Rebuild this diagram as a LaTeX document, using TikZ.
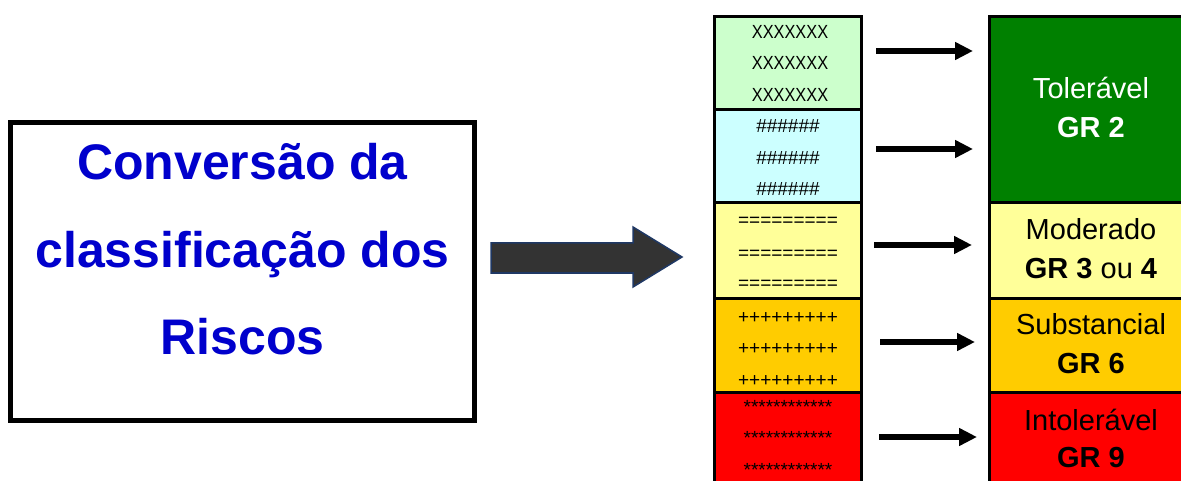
\documentclass[tikz,border=0pt]{standalone}
\usepackage{fontspec}
\setmainfont{Liberation Sans}
\usetikzlibrary{arrows.meta}
\definecolor{txtblue}{RGB}{0,0,204}
\definecolor{lgreen}{RGB}{204,255,204}
\definecolor{lcyan}{RGB}{204,255,255}
\definecolor{lyellow}{RGB}{255,255,153}
\definecolor{gold}{RGB}{255,204,0}
\definecolor{dgreen}{RGB}{0,128,0}
\definecolor{arrowfill}{RGB}{51,51,51}
\definecolor{arrowedge}{RGB}{31,56,100}
\tikzset{
  seg/.style={draw=black, line width=3pt, inner sep=0pt, outer sep=0pt},
  lseg/.style={seg, minimum width=147pt},
  rseg/.style={seg, minimum width=203pt},
  bigtxt/.style={anchor=base, inner sep=0pt, text=txtblue, font=\fontsize{50}{60}\selectfont\bfseries},
  smalltxt/.style={anchor=base, inner sep=0pt, font=\fontsize{19}{19}\selectfont},
  lbl/.style={anchor=base, inner sep=0pt, font=\fontsize{29}{35}\selectfont},
  smallarrow/.style={line width=6pt, -{Triangle[length=18pt,width=17pt]}},
}
\begin{document}
\begin{tikzpicture}[x=1pt,y=-1pt]
\useasboundingbox (0,0) rectangle (1181,481);
\clip (0,0) rectangle (1181,481);
% left box
\node[draw=black, line width=5pt, minimum width=464pt, minimum height=298pt, inner sep=0pt] (conv) at (242.5,271.5) {};
\node[bigtxt] (t1) at (242.5,180) {Conversão da};
\node[bigtxt] (t2) at (242.5,267) {classificação dos};
\node[bigtxt] (t3) at (242.5,354) {Riscos};
% big arrow
\draw[fill=arrowfill, draw=arrowedge, line width=1.5pt, line join=miter]
  (491,243) -- (633,243) -- (633,227) -- (682,257) -- (633,287) -- (633,273) -- (491,273) -- cycle;
% left column
\node[lseg, fill=lgreen, minimum height=93.5pt] (l1) at (788,63.25) {};
\node[lseg, fill=lcyan, minimum height=93pt] (l2) at (788,156.5) {};
\node[lseg, fill=lyellow, minimum height=95pt] (l3) at (788,250.5) {};
\node[lseg, fill=gold, minimum height=94pt] (l4) at (788,345) {};
\node[lseg, fill=red, minimum height=94pt] (l5) at (788,439) {};
% left column texts
\foreach \i/\y in {1/38.5,2/70,3/101.5}{
  \node[smalltxt] (x\i) at (790,\y) {\scalebox{0.86}[1]{XXXXXXX}};}
\foreach \i/\y in {1/133,2/164.5,3/196}{
  \node[smalltxt] (h\i) at (788,\y) {\#\#\#\#\#\#};}
\foreach \i/\y in {1/227,2/259,3/290}{
  \node[smalltxt] (e\i) at (788,\y) {=========};}
\foreach \i/\y in {1/323,2/354.5,3/386}{
  \node[smalltxt] (p\i) at (788,\y) {+++++++++};}
\foreach \i/\y in {1/413,2/444.5,3/476}{
  \node[smalltxt] (s\i) at (788,\y) {************};}
% right column
\node[rseg, fill=dgreen, minimum height=186.5pt] (r1) at (1091,109.75) {};
\node[rseg, fill=lyellow, minimum height=95pt] (r2) at (1091,250.5) {};
\node[rseg, fill=gold, minimum height=94pt] (r3) at (1091,345) {};
\node[rseg, fill=red, minimum height=94pt] (r4) at (1091,439) {};
\node[lbl, text=white] (r1a) at (1091,99) {Tolerável};
\node[lbl, text=white] (r1b) at (1091,138) {\bfseries GR 2};
\node[lbl] (r2a) at (1091,240) {Moderado};
\node[lbl] (r2b) at (1091,279) {\textbf{GR 3} ou \textbf{4}};
\node[lbl] (r3a) at (1091,334) {Substancial};
\node[lbl] (r3b) at (1091,373) {\bfseries GR 6};
\node[lbl] (r4a) at (1091,430) {Intolerável};
\node[lbl] (r4b) at (1091,467) {\bfseries GR 9};
% small arrows
\coordinate (a1s) at (876,51);  \coordinate (a1e) at (973,51);
\coordinate (a2s) at (876,149); \coordinate (a2e) at (973,149);
\coordinate (a3s) at (874,245); \coordinate (a3e) at (972,245);
\coordinate (a4s) at (880,342); \coordinate (a4e) at (975,342);
\coordinate (a5s) at (879,437); \coordinate (a5e) at (977,437);
\foreach \i in {1,...,5}{\draw[smallarrow] (a\i s) -- (a\i e);}
\end{tikzpicture}
\end{document}
